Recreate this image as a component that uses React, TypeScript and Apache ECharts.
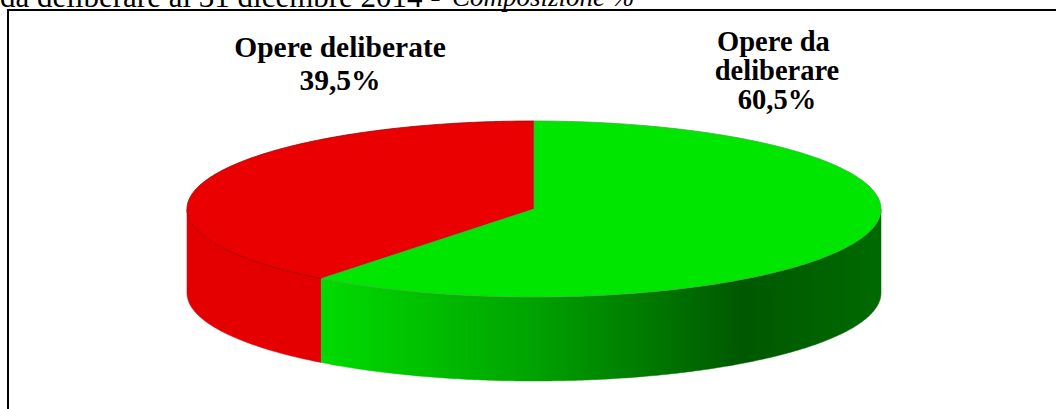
import React, { useEffect, useRef } from "react";
import * as echarts from "echarts";

const categories = ["Opere deliberate", "Opere da deliberare"];
const shares = [39.5, 60.5];
const topColors = ["#EA0000", "#00E600"];
const titleMain = "da deliberare al 31 dicembre 2014 - ";
const titleItalic = "Composizione %";

const W = 1056;
const H = 409;
const CX = 534;
const CY = 209;
const RX = 347;
const RY = 88;
const DEPTH = 84;

function pt(theta: number, dy: number): number[] {
  return [CX + RX * Math.cos(theta), CY - RY * Math.sin(theta) + dy];
}

function arcPts(t1: number, t2: number, dy: number): number[][] {
  const n = Math.max(2, Math.ceil(Math.abs(t2 - t1) / 0.01));
  const out: number[][] = [];
  for (let k = 0; k <= n; k++) {
    out.push(pt(t1 + ((t2 - t1) * k) / n, dy));
  }
  return out;
}

function sliceAngles(i: number): number[] {
  const total = shares.reduce((s, v) => s + v, 0);
  let before = 0;
  for (let k = 0; k < i; k++) before += shares[k];
  const s = Math.PI / 2 + (2 * Math.PI * before) / total;
  const e = s + (2 * Math.PI * shares[i]) / total;
  return [s, e];
}

function fmt(v: number): string {
  return v.toFixed(1).replace(".", ",") + "%";
}

export default function App() {
  const ref = useRef<HTMLDivElement>(null);
  useEffect(() => {
    document.body.style.margin = "0";
    if (!ref.current) return;
    const chart = echarts.init(ref.current, undefined, { renderer: "svg" });

    const greenSide = new echarts.graphic.LinearGradient(
      CX - RX,
      0,
      CX + RX,
      0,
      [
        { offset: 0, color: "#00E000" },
        { offset: 0.2, color: "#00DA00" },
        { offset: 0.5, color: "#00A200" },
        { offset: 0.8, color: "#005800" },
        { offset: 1, color: "#006A00" },
      ],
      true
    );
    const sideFills: any[] = ["#E40000", greenSide];

    const sideRender = (params: any) => {
      const i = params.dataIndex;
      const [s, e] = sliceAngles(i);
      const children: any[] = [];
      const ranges = [
        [Math.PI, 2 * Math.PI],
        [3 * Math.PI, 4 * Math.PI],
      ];
      for (const [r1, r2] of ranges) {
        const a1 = Math.max(s, r1);
        const a2 = Math.min(e, r2);
        if (a2 > a1) {
          const pts = arcPts(a1, a2, 0).concat(arcPts(a2, a1, DEPTH));
          children.push({
            type: "polygon",
            shape: { points: pts },
            style: { fill: sideFills[i], stroke: sideFills[i], lineWidth: 0.5 },
          });
        }
      }
      return { type: "group", children };
    };

    const topRender = (params: any) => {
      const i = params.dataIndex;
      const [s, e] = sliceAngles(i);
      const pts = [[CX, CY]].concat(arcPts(s, e, 0));
      return {
        type: "polygon",
        shape: { points: pts },
        style: {
          fill: topColors[i],
          stroke: i === 0 ? "#9A0000" : "#3FAF3F",
          lineWidth: 0.8,
        },
      };
    };

    chart.setOption({
      animation: false,
      backgroundColor: "#ffffff",
      series: [
        {
          type: "custom",
          coordinateSystem: "none",
          renderItem: sideRender,
          data: shares,
          silent: true,
          z: 1,
        },
        {
          type: "custom",
          coordinateSystem: "none",
          renderItem: topRender,
          data: shares,
          silent: true,
          z: 2,
        },
      ],
      graphic: [
        {
          type: "rect",
          shape: { x: 8, y: 10, width: 1200, height: 600 },
          style: { fill: "none", stroke: "#000", lineWidth: 2 },
          silent: true,
        },
        {
          type: "text",
          x: 0,
          y: -4,
          style: {
            text: titleMain,
            font: "31px 'Liberation Serif'",
            fill: "#000",
            verticalAlign: "middle",
            align: "left",
          },
        },
        {
          type: "text",
          x: 452,
          y: -3,
          style: {
            text: titleItalic,
            font: "italic 27px 'Liberation Serif'",
            fill: "#000",
            verticalAlign: "middle",
            align: "left",
          },
        },
        {
          type: "text",
          x: 340,
          y: 30,
          style: {
            text: categories[0] + "\n" + fmt(shares[0]),
            fontFamily: "'Liberation Serif'",
            fontWeight: "bold",
            fontSize: 29.5,
            lineHeight: 33,
            width: 250,
            overflow: "break",
            fill: "#000",
            align: "center",
            verticalAlign: "top",
          },
        },
        {
          type: "text",
          x: 777,
          y: 27,
          style: {
            text: categories[1] + "\n" + fmt(shares[1]),
            fontFamily: "'Liberation Serif'",
            fontWeight: "bold",
            fontSize: 28.5,
            lineHeight: 29,
            width: 150,
            overflow: "break",
            fill: "#000",
            align: "center",
            verticalAlign: "top",
          },
        },
      ],
    });
    return () => chart.dispose();
  }, []);
  return <div ref={ref} style={{ width: W, height: H }} />;
}
